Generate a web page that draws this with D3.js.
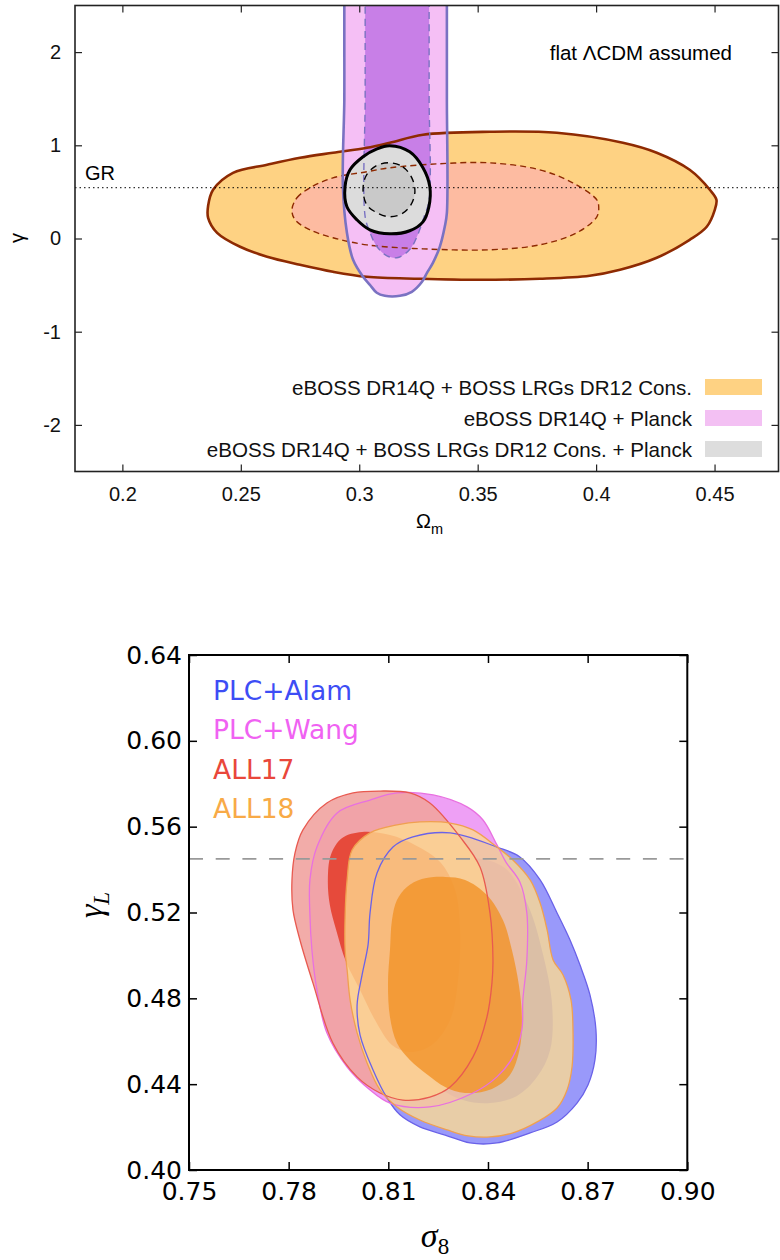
<!DOCTYPE html>
<html><head><meta charset="utf-8">
<script src="https://cdn.jsdelivr.net/npm/d3@7"></script>
<style>body{margin:0;background:#fff}svg{display:block}</style>
</head><body>
<svg id="c" width="780" height="1260"></svg>
<script>
// ---------- TOP CHART DATA (Omega_m, gamma) ----------
const omegaTicks = [0.2, 0.25, 0.3, 0.35, 0.4, 0.45];
const gammaTicks = [-2, -1, 0, 1, 2];
const gammaGR = 0.545;
const topLegend = ["eBOSS DR14Q + BOSS LRGs DR12 Cons.", "eBOSS DR14Q + Planck", "eBOSS DR14Q + BOSS LRGs DR12 Cons. + Planck"];
const lssOuter = [[0.2362,0.351],[0.2383,0.523],[0.2467,0.705],[0.2611,0.791],[0.2750,0.866],[0.2889,0.920],[0.3032,0.973],[0.3129,1.027],[0.3269,1.113],[0.3551,1.145],[0.3834,1.134],[0.4113,1.027],[0.4256,0.920],[0.4395,0.737],[0.4480,0.523],[0.4508,0.415],[0.4501,0.308],[0.4467,0.126],[0.4395,-0.014],[0.4256,-0.207],[0.4101,-0.336],[0.3973,-0.400],[0.3762,-0.432],[0.3509,-0.443],[0.3256,-0.432],[0.3032,-0.411],[0.2889,-0.357],[0.2750,-0.282],[0.2611,-0.196],[0.2497,-0.089],[0.2400,0.061],[0.2362,0.222]];
const lssInner = [[0.2716,0.308],[0.2737,0.437],[0.2792,0.544],[0.2889,0.651],[0.3032,0.716],[0.3129,0.759],[0.3340,0.802],[0.3551,0.812],[0.3762,0.737],[0.3901,0.598],[0.4003,0.415],[0.4011,0.340],[0.4003,0.233],[0.3918,0.061],[0.3762,-0.068],[0.3551,-0.121],[0.3269,-0.111],[0.3032,-0.068],[0.2889,0.008],[0.2792,0.093],[0.2729,0.201]];
const planckOuter = [[0.2937,3.5],[0.2937,3.0],[0.2937,2.6],[0.2937,2.0],[0.2937,1.488],[0.2931,0.555],[0.2948,0.061],[0.2974,-0.229],[0.3016,-0.411],[0.3045,-0.497],[0.3074,-0.582],[0.3108,-0.615],[0.3172,-0.615],[0.3222,-0.572],[0.3265,-0.465],[0.3286,-0.368],[0.3311,-0.261],[0.3340,-0.089],[0.3361,0.126],[0.3370,0.276],[0.3370,1.488],[0.3370,2.0],[0.3370,2.6],[0.3370,3.0],[0.3370,3.5]];
const planckInner = [[0.3025,3.5],[0.3025,3.0],[0.3025,2.6],[0.3025,2.0],[0.3025,1.488],[0.3025,0.233],[0.3046,0.061],[0.3075,-0.089],[0.3117,-0.186],[0.3159,-0.207],[0.3193,-0.164],[0.3222,-0.089],[0.3247,0.040],[0.3274,0.233],[0.3295,0.415],[0.3295,1.488],[0.3295,2.0],[0.3295,2.6],[0.3295,3.0],[0.3295,3.5]];
const combOuter = [[0.3129,0.995],[0.3213,0.930],[0.3269,0.759],[0.3298,0.555],[0.3294,0.340],[0.3269,0.179],[0.3213,0.083],[0.3129,0.050],[0.3045,0.093],[0.2990,0.201],[0.2948,0.340],[0.2940,0.555],[0.2961,0.737],[0.3016,0.877],[0.3075,0.962]];
const combInner = [[0.3129,0.812],[0.3184,0.769],[0.3222,0.651],[0.3235,0.501],[0.3218,0.361],[0.3180,0.265],[0.3129,0.233],[0.3075,0.276],[0.3032,0.361],[0.3016,0.523],[0.3029,0.673],[0.3071,0.780]];

// ---------- BOTTOM CHART DATA (sigma_8, gamma_L) ----------
const sigmaTicks = [0.75, 0.78, 0.81, 0.84, 0.87, 0.90];
const gammaLTicks = [0.40, 0.44, 0.48, 0.52, 0.56, 0.60, 0.64];
const gammaLRef = 0.545;
const bottomLegend = ["PLC+Alam", "PLC+Wang", "ALL17", "ALL18"];
const alamOuter = [[0.8045,0.5198],[0.8066,0.5384],[0.8114,0.5505],[0.8174,0.5552],[0.8286,0.5571],[0.8427,0.5505],[0.8496,0.5459],[0.8557,0.5352],[0.8608,0.5198],[0.8647,0.5072],[0.8677,0.4955],[0.8707,0.4816],[0.8725,0.4653],[0.8722,0.4513],[0.8701,0.4396],[0.8668,0.4312],[0.8608,0.4224],[0.8527,0.4173],[0.8427,0.4126],[0.8346,0.4126],[0.8271,0.4163],[0.8195,0.4201],[0.8135,0.4257],[0.8096,0.4336],[0.8054,0.4466],[0.8015,0.4629],[0.8006,0.4769],[0.8021,0.4909],[0.8039,0.5049]];
const alamInner = [[0.8150,0.5212],[0.8195,0.5375],[0.8271,0.5445],[0.8361,0.5454],[0.8451,0.5407],[0.8520,0.5235],[0.8566,0.5002],[0.8593,0.4769],[0.8587,0.4559],[0.8548,0.4434],[0.8487,0.4345],[0.8406,0.4312],[0.8325,0.4326],[0.8256,0.4382],[0.8195,0.4503],[0.8156,0.4699],[0.8141,0.4955]];
const wangOuter = [[0.7864,0.5352],[0.7885,0.5505],[0.7946,0.5664],[0.8045,0.5724],[0.8126,0.5757],[0.8235,0.5748],[0.8337,0.5692],[0.8385,0.5631],[0.8427,0.5515],[0.8454,0.5435],[0.8496,0.5342],[0.8517,0.5198],[0.8517,0.4979],[0.8505,0.4792],[0.8502,0.4653],[0.8475,0.4527],[0.8427,0.4434],[0.8355,0.4359],[0.8225,0.4294],[0.8105,0.4312],[0.8045,0.4373],[0.7976,0.4480],[0.7915,0.4639],[0.7885,0.4839],[0.7870,0.5025],[0.7864,0.5188]];
const all17Outer = [[0.7810,0.5352],[0.7819,0.5477],[0.7843,0.5585],[0.7915,0.5710],[0.7994,0.5757],[0.8075,0.5766],[0.8165,0.5757],[0.8225,0.5710],[0.8316,0.5552],[0.8376,0.5412],[0.8406,0.5198],[0.8415,0.4979],[0.8412,0.4872],[0.8397,0.4713],[0.8355,0.4527],[0.8286,0.4387],[0.8225,0.4340],[0.8144,0.4326],[0.8075,0.4359],[0.8006,0.4434],[0.7933,0.4592],[0.7873,0.4872],[0.7834,0.5072],[0.7813,0.5212]];
const all17Inner = [[0.7918,0.5352],[0.7927,0.5468],[0.7961,0.5547],[0.8021,0.5575],[0.8105,0.5561],[0.8180,0.5515],[0.8256,0.5435],[0.8301,0.5305],[0.8316,0.5119],[0.8310,0.4886],[0.8286,0.4699],[0.8231,0.4583],[0.8165,0.4550],[0.8111,0.4583],[0.8060,0.4699],[0.8015,0.4839],[0.7973,0.4969],[0.7943,0.5119],[0.7924,0.5235]];
const all18Outer = [[0.7970,0.5025],[0.7970,0.5188],[0.7976,0.5352],[0.7991,0.5491],[0.8045,0.5571],[0.8126,0.5608],[0.8195,0.5622],[0.8286,0.5617],[0.8355,0.5585],[0.8427,0.5505],[0.8475,0.5445],[0.8527,0.5352],[0.8557,0.5244],[0.8578,0.5119],[0.8596,0.4979],[0.8626,0.4909],[0.8650,0.4792],[0.8656,0.4639],[0.8653,0.4480],[0.8638,0.4373],[0.8608,0.4289],[0.8548,0.4224],[0.8475,0.4173],[0.8406,0.4154],[0.8340,0.4159],[0.8277,0.4187],[0.8195,0.4233],[0.8126,0.4294],[0.8075,0.4373],[0.8036,0.4499],[0.8006,0.4639],[0.7985,0.4792],[0.7976,0.4932]];
const all18Inner = [[0.8099,0.4872],[0.8105,0.5025],[0.8111,0.5165],[0.8126,0.5258],[0.8156,0.5319],[0.8201,0.5356],[0.8271,0.5366],[0.8331,0.5352],[0.8397,0.5282],[0.8445,0.5165],[0.8472,0.5025],[0.8493,0.4862],[0.8502,0.4713],[0.8496,0.4569],[0.8466,0.4443],[0.8412,0.4378],[0.8331,0.4359],[0.8271,0.4387],[0.8219,0.4443],[0.8165,0.4513],[0.8126,0.4592],[0.8105,0.4713]];

const svg = d3.select("#c");
const closed = (xs, ys) => d3.line().x(d => xs(d[0])).y(d => ys(d[1])).curve(d3.curveCatmullRomClosed.alpha(0.5));

// ================= TOP CHART =================
(function(){
  const L = 75, R = 778.5, T = 5.5, B = 471.5;
  const x = d3.scaleLinear([0.18, 0.477], [L, R]);
  const y = d3.scaleLinear([-2.5, 2.5], [B, T]);
  const g = svg.append("g");
  g.append("clipPath").attr("id", "clipTop").append("rect").attr("x", L).attr("y", T).attr("width", R - L).attr("height", B - T);
  const area = g.append("g").attr("clip-path", "url(#clipTop)");
  const ln = closed(x, y);
  const fills = [
    [lssOuter, "#fed283"], [lssInner, "#fdbba1"],
    [planckOuter, "#f5bff5"], [planckInner, "#c87fe7"],
    [combOuter, "#dcdcdc"], [combInner, "#c9c9c9"]
  ];
  fills.forEach(([d, c]) => area.append("path").attr("d", ln(d)).attr("fill", c).attr("stroke", "none"));
  const strokes = [
    [lssOuter, "#8e2a02", 2.6, null], [lssInner, "#8e2a02", 1.4, "6,4"],
    [planckOuter, "#7a72c2", 2.6, null], [planckInner, "#7a72c2", 1.4, "7,5"],
    [combOuter, "#000", 3, null], [combInner, "#000", 1.4, "7,5"]
  ];
  strokes.forEach(([d, c, w, da]) => {
    const p = area.append("path").attr("d", ln(d)).attr("fill", "none").attr("stroke", c).attr("stroke-width", w).attr("stroke-linejoin", "round");
    if (da) p.attr("stroke-dasharray", da);
  });
  const font = "Liberation Sans, Arial, sans-serif";
  // GR line
  area.append("line").attr("x1", L).attr("x2", R).attr("y1", y(gammaGR)).attr("y2", y(gammaGR))
    .attr("stroke", "#000").attr("stroke-width", 1).attr("stroke-dasharray", "1.5,3");
  g.append("text").attr("x", 85).attr("y", y(gammaGR) - 8).text("GR")
    .attr("font-family", font).attr("font-size", 20);
  g.append("text").attr("x", 732).attr("y", 60).attr("text-anchor", "end")
    .attr("font-family", font).attr("font-size", 20.5).text("flat ΛCDM assumed");

  const fmt = d => String(d);
  const ax = g.append("g").attr("transform", `translate(0,${B})`).call(d3.axisBottom(x).tickValues(omegaTicks).tickFormat(fmt).tickSizeInner(-7).tickSizeOuter(0).tickPadding(15));
  const ay = g.append("g").attr("transform", `translate(${L},0)`).call(d3.axisLeft(y).tickValues(gammaTicks).tickFormat(fmt).tickSizeInner(-7).tickSizeOuter(0).tickPadding(14));
  const at = g.append("g").attr("transform", `translate(0,${T})`).call(d3.axisTop(x).tickValues(omegaTicks).tickFormat("").tickSizeInner(-7).tickSizeOuter(0));
  const ar = g.append("g").attr("transform", `translate(${R},0)`).call(d3.axisRight(y).tickValues(gammaTicks).tickFormat("").tickSizeInner(-7).tickSizeOuter(0));
  [ax, ay, at, ar].forEach(a => {
    a.select(".domain").remove();
    a.selectAll(".tick line").attr("stroke", "#222").attr("stroke-width", 1.2);
    a.selectAll("text").attr("font-family", font).attr("font-size", 20).attr("fill", "#111");
  });
  g.append("rect").attr("x", L).attr("y", T).attr("width", R - L).attr("height", B - T)
    .attr("fill", "none").attr("stroke", "#222").attr("stroke-width", 1.6);

  // axis labels
  const xl = g.append("text").attr("x", 416).attr("y", 528).attr("font-family", font).attr("font-size", 20);
  xl.append("tspan").text("Ω");
  xl.append("tspan").attr("dy", 6).attr("font-size", 14.5).text("m");
  g.append("text").attr("transform", "translate(24,238) rotate(-90)").attr("text-anchor", "middle")
    .attr("font-family", font).attr("font-size", 20).text("γ");

  // legend
  const legCols = ["#fed283", "#f3c0f3", "#dddddd"];
  topLegend.forEach((t, i) => {
    const yb = 394.5 + i * 31;
    g.append("text").attr("x", 692).attr("y", yb).attr("text-anchor", "end")
      .attr("font-family", font).attr("font-size", 20.6).attr("fill", "#111").text(t);
    g.append("rect").attr("x", 705).attr("y", 379 + i * 31).attr("width", 57).attr("height", 16).attr("fill", legCols[i]);
  });
})();

// ================= BOTTOM CHART =================
(function(){
  const L = 189, R = 687.3, T = 655, B = 1170;
  const x = d3.scaleLinear([0.75, 0.90], [L, R]);
  const y = d3.scaleLinear([0.40, 0.64], [B, T]);
  const g = svg.append("g");
  g.append("clipPath").attr("id", "clipBot").append("rect").attr("x", L).attr("y", T).attr("width", R - L).attr("height", B - T);
  const area = g.append("g").attr("clip-path", "url(#clipBot)");
  const ln = closed(x, y);
  const layers = [
    [alamOuter, "#4646f5", 0.55], [alamInner, "#3a30f0", 0.6],
    [wangOuter, "#e052ed", 0.55],
    [all17Outer, "#f1a3a0", 0.9], [all17Inner, "#e4402f", 0.9],
    [all18Outer, "#fedb90", 0.78], [all18Inner, "#f2942a", 0.82]
  ];
  layers.forEach(([d, c, o]) => area.append("path").attr("d", ln(d)).attr("fill", c).attr("fill-opacity", o));
  const lines = [[alamOuter, "#6a62e8"], [wangOuter, "#e870e0"], [all17Outer, "#e85a50"], [all18Outer, "#f0a050"]];
  lines.forEach(([d, c]) => area.append("path").attr("d", ln(d)).attr("fill", "none").attr("stroke", c).attr("stroke-width", 1.3));

  area.append("line").attr("x1", L).attr("x2", R).attr("y1", y(gammaLRef)).attr("y2", y(gammaLRef))
    .attr("stroke", "#999").attr("stroke-width", 1.6).attr("stroke-dasharray", "14,12.7");

  const font = "DejaVu Sans, sans-serif";
  const fmt = d3.format(".2f");
  const ax = g.append("g").attr("transform", `translate(0,${B})`).call(d3.axisBottom(x).tickValues(sigmaTicks).tickFormat(fmt).tickSizeInner(-8).tickSizeOuter(0).tickPadding(12));
  const ay = g.append("g").attr("transform", `translate(${L},0)`).call(d3.axisLeft(y).tickValues(gammaLTicks).tickFormat(fmt).tickSizeInner(-8).tickSizeOuter(0).tickPadding(7));
  const at = g.append("g").attr("transform", `translate(0,${T})`).call(d3.axisTop(x).tickValues(sigmaTicks).tickFormat("").tickSizeInner(-8).tickSizeOuter(0));
  const ar = g.append("g").attr("transform", `translate(${R},0)`).call(d3.axisRight(y).tickValues(gammaLTicks).tickFormat("").tickSizeInner(-8).tickSizeOuter(0));
  [ax, ay, at, ar].forEach(a => {
    a.select(".domain").remove();
    a.selectAll(".tick line").attr("stroke", "#000").attr("stroke-width", 1.5);
    a.selectAll("text").attr("font-family", font).attr("font-size", 25).attr("fill", "#000");
  });
  g.append("rect").attr("x", L).attr("y", T).attr("width", R - L).attr("height", B - T)
    .attr("fill", "none").attr("stroke", "#000").attr("stroke-width", 2);

  const legCols = ["#3d4df5", "#f062f2", "#e9473b", "#f8aa47"];
  bottomLegend.forEach((t, i) => {
    g.append("text").attr("x", 213).attr("y", 700 + i * 39.3).attr("font-family", font).attr("font-size", 26.5)
      .attr("fill", legCols[i]).text(t);
  });

  const serif = "Liberation Serif, DejaVu Serif, serif";
  const xl = g.append("text").attr("x", 435).attr("y", 1247).attr("text-anchor", "middle").attr("font-family", serif);
  xl.append("tspan").attr("font-style", "italic").attr("font-size", 34).text("σ");
  xl.append("tspan").attr("font-size", 23).attr("dy", 7).text("8");
  const yl = g.append("text").attr("transform", "translate(102,905) rotate(-90)").attr("text-anchor", "middle").attr("font-family", serif);
  yl.append("tspan").attr("font-style", "italic").attr("font-size", 34).text("γ");
  yl.append("tspan").attr("font-style", "italic").attr("font-size", 23).attr("dy", 7).text("L");
})();
</script>
</body></html>
